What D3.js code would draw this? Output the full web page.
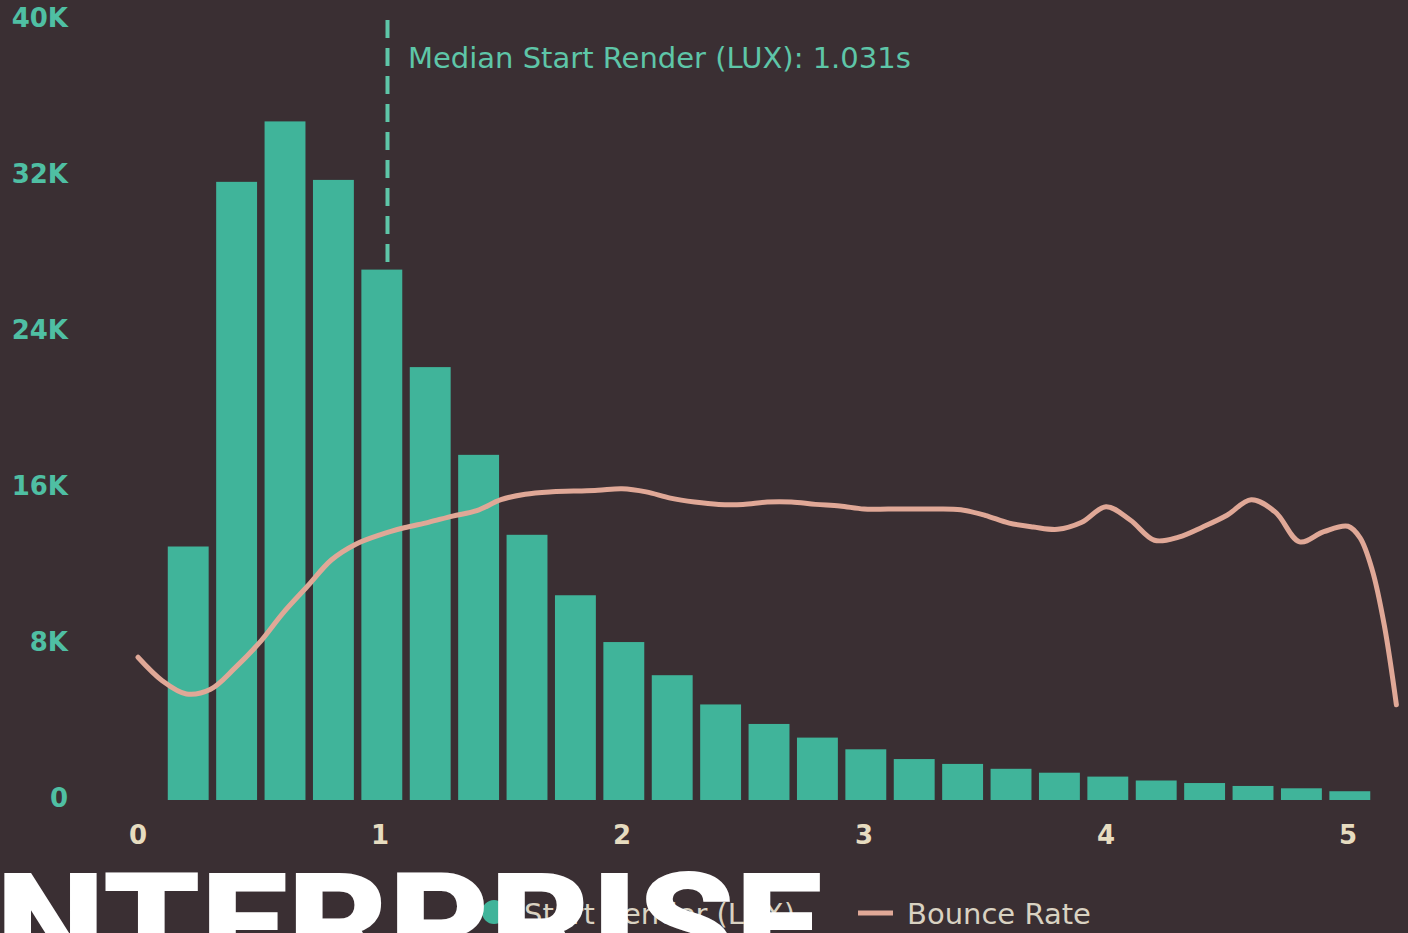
<!DOCTYPE html>
<meta charset="utf-8">
<style>
body {
  margin: 0;
  background: #3a2f33;
  overflow: hidden;
}
svg {
  display: block;
  font-family: 'DejaVu Sans', sans-serif;
}
.ylab {
  fill: #4fbfa3;
  font-size: 26px;
  font-weight: bold;
}
.xlab {
  fill: #e6dcc0;
  font-size: 26px;
  font-weight: bold;
}
.legend {
  fill: #d9d2c2;
  font-size: 29px;
}
.median {
  fill: #5ec6a8;
  font-size: 29px;
}
.big {
  fill: #ffffff;
  font-family: 'Roboto', sans-serif;
  font-weight: 900;
  font-size: 140px;
}
</style>
<body>
<div id='chart'></div>
<script src="https://d3js.org/d3.v7.min.js"></script>
<script>
// start render histogram (bin centre in seconds, page views)
var binCentres = [0.2, 0.4, 0.6, 0.8, 1.0, 1.2, 1.4, 1.6, 1.8, 2.0, 2.2, 2.4, 2.6,
                  2.8, 3.0, 3.2, 3.4, 3.6, 3.8, 4.0, 4.2, 4.4, 4.6, 4.8, 5.0];
var pageViews = [13000, 31700, 34800, 31800, 27200, 22200, 17700, 13600, 10500, 8100,
                 6400, 4900, 3900, 3200, 2600, 2100, 1850, 1600, 1400, 1200,
                 1000, 870, 720, 600, 450];

// bounce rate (%) along start render
var bounceX = [0, 0.1, 0.2, 0.3, 0.4, 0.5, 0.6, 0.7, 0.8, 0.9, 1.0, 1.1, 1.2, 1.3, 1.4,
               1.5, 1.6, 1.7, 1.8, 1.9, 2.0, 2.1, 2.2, 2.3, 2.4, 2.5, 2.6, 2.7, 2.8, 2.9,
               3.0, 3.1, 3.2, 3.3, 3.4, 3.5, 3.6, 3.7, 3.8, 3.9, 4.0, 4.1, 4.2, 4.3, 4.4,
               4.5, 4.6, 4.7, 4.8, 4.9, 5.0, 5.05, 5.1, 5.15, 5.2];
var bounceRate = [18.3, 15.3, 13.6, 14.2, 16.9, 20.1, 24.0, 27.4, 30.8, 32.8, 34.0, 34.9, 35.6, 36.4, 37.1,
                  38.5, 39.2, 39.5, 39.6, 39.7, 39.9, 39.5, 38.7, 38.2, 37.9, 37.9, 38.2, 38.2, 37.9, 37.7,
                  37.3, 37.3, 37.3, 37.3, 37.2, 36.5, 35.5, 35.0, 34.7, 35.6, 37.6, 35.9, 33.3, 33.7, 35.0,
                  36.5, 38.5, 36.9, 33.1, 34.4, 35.1, 33.6, 29.5, 22.4, 12.2];

var yTicks = [0, 8000, 16000, 24000, 32000, 40000];
var xTicks = [0, 1, 2, 3, 4, 5];
var medianStart = 1.031;

var width = 1408, height = 933;

var svg = d3.select('#chart')
            .append('svg')
            .attr('width', width)
            .attr('height', height);

var x = d3.scaleLinear().domain([0, 5]).range([138, 1348]);
var y = d3.scaleLinear().domain([0, 40000]).range([800, 20]);
var y2 = d3.scaleLinear().domain([0, 100]).range([800, 20]);

// bars sit a touch right of their bin centre
var padL = 0.077, padR = 0.092;

// y labels
svg.selectAll('.ylab')
   .data(yTicks)
   .enter().append('text')
   .attr('class', 'ylab')
   .attr('x', 68)
   .attr('y', function(d){ return y(d) - 2; })
   .attr('dy', '0.35em')
   .attr('text-anchor', 'end')
   .text(function(d){ return d == 0 ? '0' : (d / 1000) + 'K'; });

// x labels
svg.selectAll('.xlab')
   .data(xTicks)
   .enter().append('text')
   .attr('class', 'xlab')
   .attr('x', function(d){ return x(d); })
   .attr('y', 835)
   .attr('dy', '0.35em')
   .attr('text-anchor', 'middle')
   .text(function(d){ return d; });

// median line
svg.append('line')
   .attr('x1', x(medianStart))
   .attr('x2', x(medianStart))
   .attr('y1', 20)
   .attr('y2', y(0))
   .attr('stroke', '#5ec6a8')
   .attr('stroke-width', 4)
   .attr('stroke-dasharray', '18,10');

svg.append('text')
   .attr('class', 'median')
   .attr('x', 408)
   .attr('y', 68)
   .text('Median Start Render (LUX): ' + medianStart + 's');

// bars
svg.selectAll('.bar')
   .data(binCentres)
   .enter().append('rect')
   .attr('class', 'bar')
   .attr('x', function(d){ return x(d - padL); })
   .attr('width', function(d){ return x(d + padR) - x(d - padL); })
   .attr('y', function(d, i){ return y(pageViews[i]); })
   .attr('height', function(d, i){ return y(0) - y(pageViews[i]); })
   .attr('fill', '#40b49a');

// bounce line
var line = d3.line()
  .curve(d3.curveCatmullRom.alpha(0.5))
  .x(function(d, i){ return x(bounceX[i]); })
  .y(function(d){ return y2(d); });

svg.append('path')
   .datum(bounceRate)
   .attr('d', line)
   .attr('fill', 'none')
   .attr('stroke', '#e0a897')
   .attr('stroke-width', 5)
   .attr('stroke-linecap', 'round');

// legend
svg.append('circle')
   .attr('cx', 494)
   .attr('cy', 912)
   .attr('r', 12)
   .attr('fill', '#40b49a');

svg.append('text')
   .attr('class', 'legend')
   .attr('x', 524)
   .attr('y', 924)
   .text('Start Render (LUX)');

svg.append('line')
   .attr('x1', 858)
   .attr('x2', 893)
   .attr('y1', 913)
   .attr('y2', 913)
   .attr('stroke', '#e0a897')
   .attr('stroke-width', 5);

svg.append('text')
   .attr('class', 'legend')
   .attr('x', 907)
   .attr('y', 924)
   .text('Bounce Rate');

// overlay title from the slide
svg.append('text')
   .attr('class', 'big')
   .attr('x', -4)
   .attr('y', 972)
   .attr('textLength', 826)
   .attr('lengthAdjust', 'spacingAndGlyphs')
   .text('NTERPRISE');

</script>
</body>
